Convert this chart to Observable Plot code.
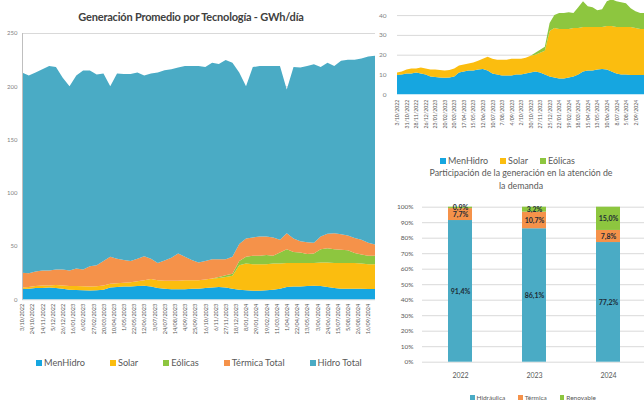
<!DOCTYPE html>
<html><head><meta charset="utf-8">
<script src="https://cdn.jsdelivr.net/npm/d3@7"></script>
<script src="https://cdn.jsdelivr.net/npm/@observablehq/plot@0.6"></script>
<style>
html,body{margin:0;padding:0;background:#fff;}
#root{position:relative;width:644px;height:405px;overflow:hidden;font-family:Lato,"Open Sans",sans-serif;}
.legend{position:absolute;display:flex;align-items:center;white-space:nowrap;color:#595959;}
.legend .it{display:flex;align-items:center;}
.legend .sw{display:inline-block;}
</style></head><body><div id="root"></div>
<script>
// ---------- Data: daily average generation (GWh/día), one value every 14 days from 3/10/2022 ----------
const series = ["MenHidro", "Solar", "Eólicas", "Térmica Total", "Hidro Total"];
const seriesColors = ["#16a6e0", "#fbbd0f", "#8dc63f", "#f5924a", "#4aabc5"];
const startDate = "3/10/2022";
const stepDays = 14;
const menHidro = [9.7,10,10.5,10.5,11,10.5,10,9,8.8,8.5,8.3,8.5,9,11,11.5,12,12,12.5,12.8,12,10.5,10,9.5,9.5,9.5,10,10,10.5,11,11.5,11,10,9,8.5,8,8,8.5,9,10,11.5,12,12,12.5,12.8,12.5,11.5,10.5,10,10,9.8,9.8,9.7,9.7];
const solar = [1.3,1.5,2,2.5,2,3,3,3.5,3.7,3.8,3.7,3.8,4,3.5,3.5,3.5,4,4.5,5.2,7,7.5,7.5,8,8,8.5,8,8,8,8.5,8.5,10,12,23,25,25,25,24.5,24.5,23.5,22.5,22,22,21.5,21.2,22,23,23.5,24,24,24.2,23.7,23.3,23.3];
const eolicas = [0,0,0,0,0,0,0,0,0,0,0,0,0,0,0,0,0,0,0,0,0,0,0,0,0,0,0,0,0,1,1.5,2,4,6.5,8,8,8.5,7.5,10.5,13,10.5,10,8.5,9,12.5,13.5,13,12.5,12,9.5,8.5,8,8];
const termicaTotal = [14,13,13.5,14,14,14.5,15,14.5,16.5,15.7,19,19.7,23,25.5,23,21.5,20,21,22.5,19,16,19,21.5,25.5,22,19,16.5,17.5,18,16.5,15,16,16,17,17,18,17.5,17,12,15,12.5,10.5,11,10,12,13.5,15,14.5,14,14,14,12,10.5];
const hidroTotal = [188,185.5,187,189,192,190,180,173,181,186.7,183.7,179,176,160,174,174.6,175.6,175,169.5,174,179,178.5,177,174.6,179,182,184.5,182,184.5,183.5,187.1,182,161,143,160,160,160,161,163,135,161,163.1,165.5,167.6,159,160.5,157,163,165,167.5,170,175,177.1];

// tick labels
const leftYTicks = [0, 50, 100, 150, 200, 250];
const leftXTickLabels = ["3/10/2022","24/10/2022","14/11/2022","5/12/2022","26/12/2022","16/01/2023","6/02/2023","27/02/2023","20/03/2023","10/04/2023","1/05/2023","22/05/2023","12/06/2023","3/07/2023","24/07/2023","14/08/2023","4/09/2023","25/09/2023","16/10/2023","6/11/2023","27/11/2023","18/12/2023","8/01/2024","29/01/2024","19/02/2024","11/03/2024","1/04/2024","22/04/2024","13/05/2024","3/06/2024","24/06/2024","15/07/2024","5/08/2024","26/08/2024","16/09/2024"];
const rightYTicks = [0, 10, 20, 30, 40];
const rightGrid = [10, 20, 30, 40, 50];
const rightXTickLabels = ["3/10/2022","31/10/2022","28/11/2022","26/12/2022","23/01/2023","20/02/2023","20/03/2023","17/04/2023","15/05/2023","12/06/2023","10/07/2023","7/08/2023","4/09/2023","2/10/2023","30/10/2023","27/11/2023","25/12/2023","22/01/2024","19/02/2024","18/03/2024","15/04/2024","13/05/2024","10/06/2024","8/07/2024","5/08/2024","2/09/2024"];

// ---------- Participación (%) ----------
const years = ["2022", "2023", "2024"];
const techs = ["Hidráulica", "Térmica", "Renovable"];
const techColors = ["#4aabc5", "#f5924a", "#8dc63f"];
const hidraulicaPct = [91.4, 86.1, 77.2];
const termicaPct = [7.7, 10.7, 7.8];
const renovablePct = [0.9, 3.2, 15.0];
const pctTicks = [0,10,20,30,40,50,60,70,80,90,100];

// ---------- build ----------
const parseD = s => { const [d, m, y] = s.split("/").map(Number); return new Date(Date.UTC(y, m - 1, d)); };
const start = parseD(startDate);
const dates = menHidro.map((_, i) => d3.utcDay.offset(start, i * stepDays));
const cols = [menHidro, solar, eolicas, termicaTotal, hidroTotal];
const tidy = [];
series.forEach((s, k) => dates.forEach((d, i) => tidy.push({date: d, series: s, value: cols[k][i]})));
const tidySmall = tidy.filter(d => series.indexOf(d.series) < 3);

const labelMap = new Map();
const leftTicks = leftXTickLabels.map(s => { const d = parseD(s); labelMap.set(+d, s); return d; });
const rightTicks = rightXTickLabels.map(s => { const d = parseD(s); labelMap.set(+d, s); return d; });
const fmtDate = d => labelMap.get(+d) ?? "";

const root = document.getElementById("root");
function place(el, left, top) { el.style.position = "absolute"; el.style.left = left + "px"; el.style.top = top + "px"; root.appendChild(el); return el; }
function makeLegend(names, colors, left, top, fontSize, gap, sw) {
  const div = document.createElement("div");
  div.className = "legend";
  div.style.fontSize = fontSize + "px";
  div.style.gap = gap + "px";
  names.forEach((n, i) => {
    const it = document.createElement("span"); it.className = "it";
    const s = document.createElement("span"); s.className = "sw";
    s.style.width = sw + "px"; s.style.height = sw + "px"; s.style.background = colors[i]; s.style.marginRight = "2px";
    it.appendChild(s); it.appendChild(document.createTextNode(n));
    div.appendChild(it);
  });
  place(div, left, top);
}

// Left title
const t1 = document.createElement("div");
t1.textContent = "Generación Promedio por Tecnología - GWh/día";
Object.assign(t1.style, {width: "382px", textAlign: "center", fontWeight: "bold", fontSize: "11px", letterSpacing: "-0.2px", color: "#404040", lineHeight: "14px"});
place(t1, 0, 10);

// Left chart
const leftPlot = Plot.plot({
  width: 380, height: 350,
  marginLeft: 22, marginRight: 5, marginTop: 33, marginBottom: 50.7,
  style: {fontFamily: "Lato, sans-serif", color: "#595959", background: "transparent", overflow: "visible"},
  x: {type: "utc", domain: [dates[0], dates[dates.length - 1]]},
  y: {domain: [0, 250]},
  color: {domain: series, range: seriesColors},
  marks: [
    Plot.ruleY(leftYTicks, {stroke: "#d9d9d9"}),
    Plot.areaY(tidy, Plot.stackY({x: "date", y: "value", fill: "series", order: series})),
    Plot.ruleX([dates[0]], {stroke: "#bfbfbf"}),
    Plot.axisY({ticks: leftYTicks, tickSize: 0, tickPadding: 5, fontSize: 6, fill: "#7f7f7f", label: null}),
    Plot.axisX({ticks: leftTicks, tickFormat: fmtDate, tickRotate: -90, tickSize: 0, tickPadding: 4, fontSize: 5.5, fill: "#595959", label: null})
  ]
});
place(leftPlot, 0, 0);
makeLegend(series, seriesColors, 36, 357, 9.2, 25, 6);

// Right top chart
const rightPlot = Plot.plot({
  width: 280, height: 150,
  marginLeft: 25, marginRight: 7, marginTop: 5.3, marginBottom: 45.7,
  style: {fontFamily: "Lato, sans-serif", color: "#595959", background: "transparent", overflow: "visible"},
  x: {type: "utc", domain: [dates[0], dates[dates.length - 1]]},
  y: {domain: [0, 50]},
  color: {domain: series.slice(0, 3), range: seriesColors.slice(0, 3)},
  marks: [
    Plot.ruleY(rightGrid, {stroke: "#d9d9d9"}),
    Plot.areaY(tidySmall, Plot.stackY({x: "date", y: "value", fill: "series", order: series.slice(0, 3)})),
    Plot.axisY({ticks: rightYTicks, tickSize: 0, tickPadding: 11, fontSize: 6.5, fill: "#7f7f7f", label: null}),
    Plot.axisX({ticks: rightTicks, tickFormat: fmtDate, tickRotate: -90, tickSize: 0, tickPadding: 5, fontSize: 5.2, fill: "#595959", label: null})
  ]
});
place(rightPlot, 372, -10);
makeLegend(series.slice(0, 3), seriesColors.slice(0, 3), 440, 155, 9, 12, 6);

// Right bottom title
const t2 = document.createElement("div");
t2.innerHTML = "Participación de la generación en la atención de<br>la demanda";
Object.assign(t2.style, {width: "260px", textAlign: "center", fontSize: "8.8px", color: "#595959", lineHeight: "13px"});
place(t2, 391, 166);

// Right bottom bars
const bars = [];
years.forEach((y, i) => {
  bars.push({year: y, tech: techs[0], value: hidraulicaPct[i]});
  bars.push({year: y, tech: techs[1], value: termicaPct[i]});
  bars.push({year: y, tech: techs[2], value: renovablePct[i]});
});
const fmtPct = v => d3.format(".1f")(v).replace(".", ",") + "%";
const barPlot = Plot.plot({
  width: 265, height: 190,
  marginLeft: 42, marginRight: 0, marginTop: 11.7, marginBottom: 23.3,
  style: {fontFamily: "Lato, sans-serif", color: "#595959", background: "transparent", overflow: "visible"},
  x: {domain: years, paddingInner: 0.68, paddingOuter: 0.34},
  y: {domain: [0, 100]},
  color: {domain: techs, range: techColors},
  marks: [
    Plot.ruleY(pctTicks, {stroke: "#d9d9d9"}),
    Plot.barY(bars, Plot.stackY({x: "year", y: "value", fill: "tech", order: techs})),
    Plot.text(bars, Plot.stackY({x: "year", y: "value", z: "tech", order: techs, text: d => fmtPct(d.value), fontSize: 7, fontWeight: "bold", fill: "#1d2b36"})),
    Plot.axisY({ticks: pctTicks, tickFormat: d => d + "%", tickSize: 0, tickPadding: 9, fontSize: 6.5, fill: "#595959", label: null}),
    Plot.axisX({tickSize: 0, tickPadding: 11, fontSize: 7, fill: "#595959", label: null})
  ]
});
place(barPlot, 380, 195);
makeLegend(techs, techColors, 470, 394, 6.5, 13, 4.5);
</script></body></html>
